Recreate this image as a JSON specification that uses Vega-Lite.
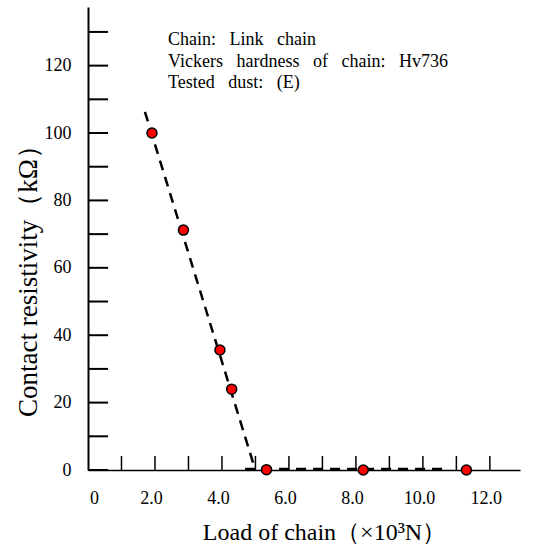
{
  "$schema": "https://vega.github.io/schema/vega-lite/v6.json",
  "width": 432,
  "height": 463,
  "autosize": {"type": "none"},
  "padding": {"left": 88, "top": 7, "right": 24, "bottom": 77},
  "background": "white",
  "config": {
    "view": {"stroke": null},
    "font": "Liberation Serif",
    "axis": {
      "domainColor": "black",
      "tickColor": "black",
      "labelColor": "black",
      "titleColor": "black",
      "labelFont": "Liberation Serif",
      "titleFont": "Liberation Serif",
      "labelFontSize": 18,
      "titleFontWeight": "normal",
      "grid": false,
      "ticks": false
    }
  },
  "datasets": {
    "points": [
      {"load": 1.91, "r": 100.0},
      {"load": 2.85, "r": 71.2},
      {"load": 3.94, "r": 35.6},
      {"load": 4.29, "r": 24.0},
      {"load": 5.33, "r": 0.1},
      {"load": 8.22, "r": 0.0},
      {"load": 11.3, "r": 0.0}
    ],
    "lines": [
      {"seg": "a", "load": 1.70, "r": 106.3},
      {"seg": "a", "load": 4.95, "r": 1.5},
      {"seg": "b", "load": 4.69, "r": 0.3},
      {"seg": "b", "load": 10.75, "r": 0.3}
    ],
    "yticks": [
      {"r": 0}, {"r": 10}, {"r": 20}, {"r": 30}, {"r": 40}, {"r": 50}, {"r": 60},
      {"r": 70}, {"r": 80}, {"r": 90}, {"r": 100}, {"r": 110}, {"r": 120}, {"r": 130}
    ],
    "xticks": [
      {"load": 1}, {"load": 2}, {"load": 3}, {"load": 4}, {"load": 5}, {"load": 6},
      {"load": 7}, {"load": 8}, {"load": 9}, {"load": 10}, {"load": 11}, {"load": 12}
    ],
    "notes": [
      {"load": 2.39, "r": 127.6, "text": "Chain:\u2002 Link\u2002 chain"},
      {"load": 2.39, "r": 121.1, "text": "Vickers\u2002 hardness\u2002 of\u2002 chain:\u2002 Hv736"},
      {"load": 2.39, "r": 114.8, "text": "Tested\u2002 dust:\u2002 (E)"}
    ]
  },
  "layer": [
    {
      "data": {"name": "lines"},
      "mark": {"type": "line", "color": "black", "strokeWidth": 2.5, "strokeDash": [10, 7]},
      "encoding": {
        "x": {
          "field": "load", "type": "quantitative",
          "scale": {"domain": [0, 12.9], "nice": false, "zero": false},
          "axis": {
            "title": "Load of chain（×10³N）",
            "titleFontSize": 24,
            "values": [0, 2, 4, 6, 8, 10, 12],
            "labelExpr": "datum.value == 0 ? '0' : format(datum.value, '.1f')",
            "domainWidth": 1.5,
            "labelPadding": 19,
            "labelOffset": {"condition": {"test": "datum.value == 0", "value": 6}, "value": -4},
            "titlePadding": 13,
            "titleX": 236,
            "labelFlush": false,
            "labelOverlap": false
          }
        },
        "y": {
          "field": "r", "type": "quantitative",
          "scale": {"domain": [0, 137.4], "nice": false},
          "axis": {
            "title": "Contact resistivity（kΩ）",
            "titleFontSize": 27,
            "values": [0, 20, 40, 60, 80, 100, 120],
            "domainWidth": 2,
            "labelPadding": 17,
            "titlePadding": 2,
            "titleY": 267,
            "labelFlush": false,
            "labelOverlap": false
          }
        },
        "detail": {"field": "seg"}
      }
    },
    {
      "data": {"name": "yticks"},
      "mark": {"type": "rule", "color": "black", "strokeWidth": 2},
      "encoding": {
        "y": {"field": "r", "type": "quantitative"},
        "x": {"datum": 0, "type": "quantitative"},
        "x2": {"datum": 0.6}
      }
    },
    {
      "data": {"name": "xticks"},
      "mark": {"type": "rule", "color": "black", "strokeWidth": 1.5},
      "encoding": {
        "x": {"field": "load", "type": "quantitative"},
        "y": {"datum": 0, "type": "quantitative"},
        "y2": {"datum": 4.15}
      }
    },
    {
      "data": {"name": "points"},
      "mark": {"type": "point", "shape": "circle", "filled": true, "fill": "#ff0000", "stroke": "black", "strokeWidth": 1.5, "size": 100, "opacity": 1},
      "encoding": {
        "x": {"field": "load", "type": "quantitative"},
        "y": {"field": "r", "type": "quantitative"}
      }
    },
    {
      "data": {"name": "notes"},
      "mark": {"type": "text", "align": "left", "baseline": "middle", "fontSize": 18, "font": "Liberation Serif", "color": "black"},
      "encoding": {
        "x": {"field": "load", "type": "quantitative"},
        "y": {"field": "r", "type": "quantitative"},
        "text": {"field": "text"}
      }
    }
  ]
}
